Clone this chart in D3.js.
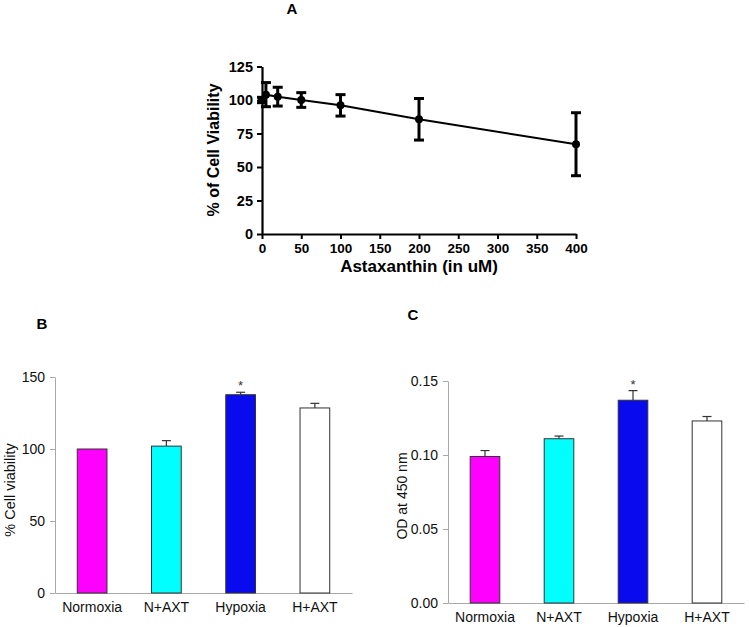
<!DOCTYPE html>
<html><head><meta charset="utf-8">
<script src="https://cdn.jsdelivr.net/npm/d3@7"></script>
<style>body{margin:0;background:#fff}svg{display:block}</style>
</head><body>
<script>
// Panel A data
const doseX = [0, 5, 20, 50, 100, 200, 400];
const viabilityA = [100, 104, 102.5, 100, 96, 85.6, 67];
const viabilityErrA = [2, 9, 7, 5.5, 8, 15.5, 23.5];
const ticksAX = [0, 50, 100, 150, 200, 250, 300, 350, 400];
const ticksAY = [0, 25, 50, 75, 100, 125];
// Panel B/C data
const groups = ["Normoxia", "N+AXT", "Hypoxia", "H+AXT"];
const groupColors = ["#ff00ff", "#00ffff", "#0a0aee", "#ffffff"];
const viabilityB = [100, 102, 137.7, 128.5];
const viabilityErrB = [0, 3.8, 1.7, 3.2];
const ticksBY = [0, 50, 100, 150];
const odC = [0.099, 0.111, 0.137, 0.123];
const odErrC = [0.004, 0.0018, 0.0065, 0.003];
const ticksCY = [0, 0.05, 0.10, 0.15];
const starsB = [false, false, true, false];
const starsC = [false, false, true, false];

const FONT = "Liberation Sans, Arial, sans-serif";
const svg = d3.select("body").append("svg").attr("width", 749).attr("height", 627);

// ---------- Panel A ----------
const xA = d3.scaleLinear().domain([0, 400]).range([262, 576]);
const yA = d3.scaleLinear().domain([0, 125]).range([234, 66.5]);
const gA = svg.append("g").attr("font-family", FONT).attr("font-weight", "bold");
const axA = gA.append("g").attr("transform", "translate(0,234)")
  .call(d3.axisBottom(xA).tickValues(ticksAX).tickSize(5).tickSizeOuter(0));
const ayA = gA.append("g").attr("transform", "translate(262,0)")
  .call(d3.axisLeft(yA).tickValues(ticksAY).tickSize(5).tickSizeOuter(0));
[axA, ayA].forEach(a => {
  a.select(".domain").attr("stroke", "#000").attr("stroke-width", 2.2);
  a.selectAll(".tick line").attr("stroke", "#000").attr("stroke-width", 2);
  a.selectAll(".tick text").attr("fill", "#000").attr("font-weight", "bold").attr("font-family", FONT);
});
axA.selectAll(".tick text").attr("dy", "0.85em").attr("font-size", 13.5);
ayA.selectAll(".tick text").attr("dx", "-1px").attr("font-size", 14.5);
const ptsA = doseX.map((d, i) => ({x: d, y: viabilityA[i], e: viabilityErrA[i]}));
gA.append("path").datum(ptsA).attr("fill", "none").attr("stroke", "#000").attr("stroke-width", 2)
  .attr("d", d3.line().x(d => xA(d.x)).y(d => yA(d.y)));
const eb = gA.append("g").selectAll("g").data(ptsA).join("g");
eb.append("line").attr("x1", d => xA(d.x)).attr("x2", d => xA(d.x))
  .attr("y1", d => yA(d.y - d.e)).attr("y2", d => yA(d.y + d.e)).attr("stroke", "#000").attr("stroke-width", 3);
eb.append("line").attr("x1", d => xA(d.x) - 5).attr("x2", d => xA(d.x) + 5)
  .attr("y1", d => yA(d.y + d.e)).attr("y2", d => yA(d.y + d.e)).attr("stroke", "#000").attr("stroke-width", 3);
eb.append("line").attr("x1", d => xA(d.x) - 5).attr("x2", d => xA(d.x) + 5)
  .attr("y1", d => yA(d.y - d.e)).attr("y2", d => yA(d.y - d.e)).attr("stroke", "#000").attr("stroke-width", 3);
eb.append("path").attr("transform", d => `translate(${xA(d.x)},${yA(d.y)})`)
  .attr("d", d3.symbol().type(d3.symbolCircle).size(50)).attr("fill", "#000");
gA.append("text").attr("x", 419).attr("y", 272).attr("text-anchor", "middle").attr("font-size", 17).text("Astaxanthin (in uM)");
gA.append("text").attr("transform", "translate(219,150) rotate(-90)").attr("text-anchor", "middle").attr("font-size", 16).text("% of Cell Viability");
gA.append("text").attr("x", 292).attr("y", 14).attr("text-anchor", "middle").attr("font-size", 15).text("A");

// ---------- Bar panels ----------
function barPanel(opt) {
  const g = svg.append("g").attr("font-family", FONT);
  const x = d3.scaleBand().domain(groups).range([opt.x0, opt.x1]).paddingInner(0.6).paddingOuter(0.3);
  const y = d3.scaleLinear().domain(opt.domain).range([opt.yb, opt.yt]);
  const ax = g.append("g").attr("transform", `translate(0,${opt.yb})`)
    .call(d3.axisBottom(x).tickSize(0).tickSizeOuter(0));
  const ay = g.append("g").attr("transform", `translate(${opt.x0},0)`)
    .call(d3.axisLeft(y).tickValues(opt.ticks).tickFormat(opt.fmt).tickSize(5).tickSizeOuter(0));
  [ax, ay].forEach(a => {
    a.select(".domain").attr("stroke", "#a8a8a8").attr("stroke-width", 1);
    a.selectAll(".tick line").attr("stroke", "#a8a8a8");
    a.selectAll(".tick text").attr("fill", "#111").attr("font-family", FONT);
  });
  ax.selectAll(".tick text").attr("dy", "1.15em").attr("font-size", 14);
  ay.selectAll(".tick text").attr("dx", "-2px").attr("font-size", 14);
  const d = groups.map((k, i) => ({k, v: opt.vals[i], e: opt.errs[i], c: groupColors[i], s: opt.stars[i]}));
  g.append("g").selectAll("g").data(d.filter(o => o.e > 0)).join("g").each(function(o) {
    const s = d3.select(this), cx = x(o.k) + x.bandwidth() / 2;
    s.append("line").attr("x1", cx).attr("x2", cx).attr("y1", y(o.v)).attr("y2", y(o.v + o.e)).attr("stroke", "#333").attr("stroke-width", 1.2);
    s.append("line").attr("x1", cx - 4.5).attr("x2", cx + 4.5).attr("y1", y(o.v + o.e)).attr("y2", y(o.v + o.e)).attr("stroke", "#333").attr("stroke-width", 1.2);
  });
  g.append("g").selectAll("rect").data(d).join("rect")
    .attr("x", o => x(o.k)).attr("width", x.bandwidth())
    .attr("y", o => y(o.v)).attr("height", o => opt.yb - y(o.v))
    .attr("fill", o => o.c).attr("stroke", "#333").attr("stroke-width", 1);
  g.append("g").selectAll("text").data(d.filter(o => o.s)).join("text")
    .attr("x", o => x(o.k) + x.bandwidth() / 2).attr("y", o => y(o.v + o.e) - 2)
    .attr("text-anchor", "middle").attr("font-size", 13).attr("fill", "#333").text("*");
  g.append("text").attr("transform", `translate(${opt.labX},${opt.labY}) rotate(-90)`)
    .attr("text-anchor", "middle").attr("font-size", opt.labSize).attr("fill", "#111").text(opt.label);
  g.append("text").attr("x", opt.titleX).attr("y", opt.titleY).attr("text-anchor", "middle")
    .attr("font-size", 15).attr("font-weight", "bold").text(opt.title);
}
barPanel({x0: 55, x1: 352, yb: 593, yt: 377, domain: [0, 150], ticks: ticksBY, fmt: d3.format("d"),
  vals: viabilityB, errs: viabilityErrB, stars: starsB, label: "% Cell viability", labX: 15, labY: 490, labSize: 14.5,
  title: "B", titleX: 42, titleY: 329});
barPanel({x0: 448, x1: 744, yb: 603, yt: 381, domain: [0, 0.15], ticks: ticksCY, fmt: d3.format(".2f"),
  vals: odC, errs: odErrC, stars: starsC, label: "OD at 450 nm", labX: 407, labY: 496, labSize: 14,
  title: "C", titleX: 413, titleY: 320});
</script>
</body></html>
